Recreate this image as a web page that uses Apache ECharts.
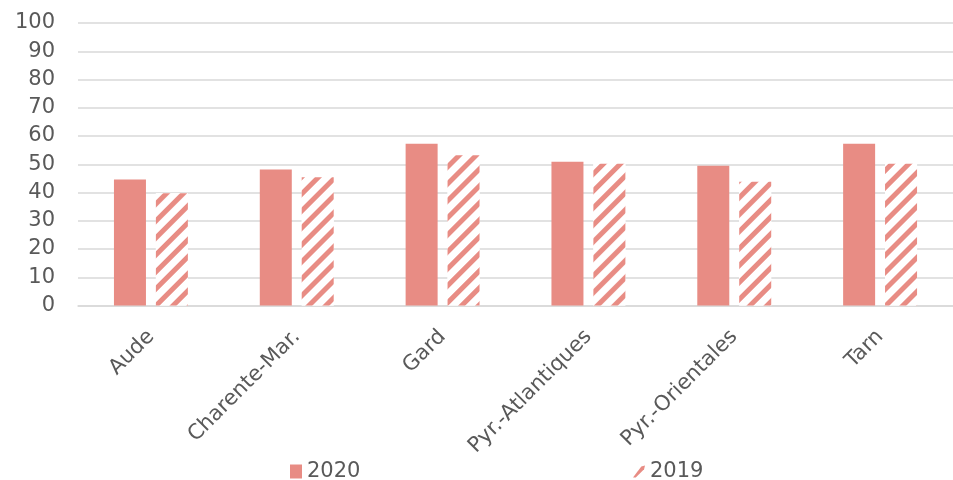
<!DOCTYPE html>
<html><head><meta charset="utf-8">
<script src="https://cdn.jsdelivr.net/npm/echarts@6/dist/echarts.min.js"></script>
<style>html,body{margin:0;padding:0;background:#fff}#c{width:953px;height:480px}</style>
</head><body><div id="c"></div>
<script>
const categories = ['Aude', 'Charente-Mar.', 'Gard', 'Pyr.-Atlantiques', 'Pyr.-Orientales', 'Tarn'];
const values2020 = [44.6, 48.1, 57.3, 50.9, 49.5, 57.3];
const values2019 = [39.7, 45.4, 53.2, 50.2, 43.8, 50.2];
const seriesNames = ['2020', '2019'];

const salmon = '#E88C84';
const textColor = '#595959';
const fontFamily = 'DejaVu Sans';
const fs = 21;
const chart = echarts.init(document.getElementById('c'), null, {renderer: 'canvas'});
chart.setOption({
  animation: false,
  textStyle: {fontFamily: fontFamily},
  grid: {left: 78, right: -9, top: 23, bottom: 174.5, containLabel: false},
  legend: [
    {left: 290, top: 461, padding: 0, itemWidth: 12, itemHeight: 14, itemGap: 8,
     textStyle: {color: textColor, fontSize: fs, fontFamily: fontFamily},
     data: [{name: seriesNames[0], icon: 'rect'}]},
    {left: 633, top: 461, padding: 0, itemWidth: 12, itemHeight: 14, itemGap: 8,
     textStyle: {color: textColor, fontSize: fs, fontFamily: fontFamily},
     data: [{name: seriesNames[1], icon: 'path://M0,13 L9,1 L13,0 L12,4 L3,13 Z', itemStyle: {color: salmon, decal: 'none'}}]}
  ],
  xAxis: {
    type: 'category', data: categories,
    axisLine: {show: true, lineStyle: {color: '#d9d9d9', width: 1.5}},
    axisTick: {show: false},
    axisLabel: {rotate: 45, color: textColor, fontSize: fs, fontFamily: fontFamily, margin: 28, interval: 0}
  },
  yAxis: {
    type: 'value', min: 0, max: 100, interval: 10,
    axisLine: {show: false}, axisTick: {show: false},
    axisLabel: {color: textColor, fontSize: fs, fontFamily: fontFamily, margin: 23},
    splitLine: {lineStyle: {color: '#d9d9d9', width: 1.5}}
  },
  series: [
    {name: seriesNames[0], type: 'bar', data: values2020, barWidth: 32, barGap: '31%',
     itemStyle: {color: salmon}},
    {name: seriesNames[1], type: 'bar', data: values2019, barWidth: 32,
     itemStyle: {color: '#ffffff', decal: {symbol: 'rect', symbolSize: 1, dashArrayX: [1, 0], dashArrayY: [5, 7], rotation: -Math.PI / 4, color: salmon, backgroundColor: '#ffffff'}}}
  ]
});
</script></body></html>
